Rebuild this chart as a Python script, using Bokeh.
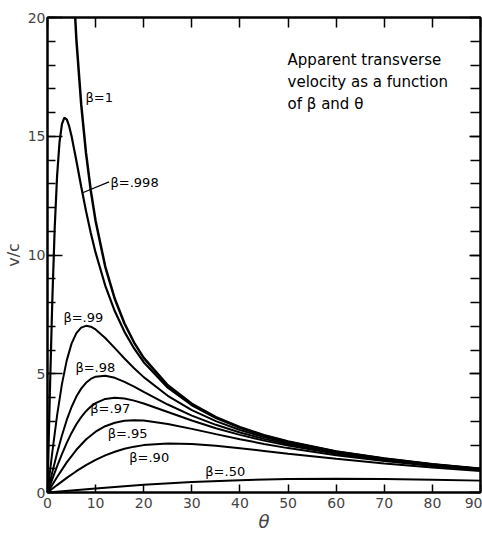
from bokeh.plotting import figure
from bokeh.models import Range1d, LinearAxis, FixedTicker, Label
from bokeh.embed import file_html
from bokeh.resources import INLINE

# ---- data ----
theta_b1 = [5, 6, 7, 8, 9, 10, 12, 14, 16, 18, 20, 25, 30, 35, 40, 45, 50, 60, 70, 80, 90]
v_b1 = [22.90, 19.08, 16.35, 14.30, 12.71, 11.43, 9.514, 8.144, 7.115, 6.314, 5.671, 4.511,
        3.732, 3.172, 2.747, 2.414, 2.145, 1.732, 1.428, 1.192, 1.0]

theta_fine = [0, 0.25, 0.5, 1, 1.5, 2, 2.5, 3, 3.5, 4, 4.5, 5, 6, 7, 8, 9, 10, 12, 14, 16, 18, 20,
              25, 30, 35, 40, 45, 50, 60, 70, 80, 90]
v_b998 = [0, 2.167, 4.274, 8.093, 11.155, 13.355, 14.757, 15.513, 15.780, 15.711, 15.423, 15.005,
          13.971, 12.885, 11.858, 10.927, 10.098, 8.715, 7.630, 6.765, 6.065, 5.489, 4.416, 3.677,
          3.137, 2.724, 2.398, 2.133, 1.725, 1.424, 1.189, 0.998]

theta_mid = [0, 1, 2, 3, 4, 5, 6, 7, 8, 9, 10, 12, 14, 16, 18, 20, 25, 30, 35, 40, 45, 50, 60, 70, 80, 90]
v_b99 = [0, 1.702, 3.258, 4.563, 5.564, 6.268, 6.710, 6.942, 7.017, 6.980, 6.866, 6.507, 6.078,
         5.644, 5.234, 4.858, 4.072, 3.470, 3.004, 2.634, 2.334, 2.086, 1.698, 1.407, 1.177, 0.99]
v_b98 = [0, 0.849, 1.660, 2.403, 3.054, 3.600, 4.038, 4.374, 4.618, 4.781, 4.878, 4.920, 4.828,
         4.660, 4.456, 4.237, 3.704, 3.239, 2.850, 2.527, 2.257, 2.029, 1.664, 1.385, 1.163, 0.98]
v_b97 = [0, 0.5615, 1.107, 1.620, 2.091, 2.509, 2.871, 3.175, 3.423, 3.618, 3.765, 3.939, 3.990,
         3.957, 3.869, 3.749, 3.391, 3.032, 2.708, 2.427, 2.184, 1.974, 1.631, 1.364, 1.149, 0.97]

theta_coarse = [0, 2, 4, 6, 8, 10, 12, 14, 16, 18, 20, 25, 30, 35, 40, 45, 50, 60, 70, 80, 90]
v_b95 = [0, 0.6555, 1.267, 1.799, 2.232, 2.560, 2.791, 2.938, 3.017, 3.042, 3.028, 2.888, 2.679,
         2.457, 2.243, 2.046, 1.869, 1.567, 1.322, 1.120, 0.95]
v_b90 = [0, 0.3124, 0.6143, 0.8966, 1.152, 1.375, 1.564, 1.718, 1.839, 1.931, 1.995, 2.064, 2.040,
         1.965, 1.863, 1.750, 1.636, 1.417, 1.222, 1.050, 0.9]

theta_b50 = [0, 5, 10, 20, 30, 40, 50, 60, 70, 80, 90]
v_b50 = [0, 0.0868, 0.1711, 0.3226, 0.4409, 0.5209, 0.5644, 0.5774, 0.5668, 0.5392, 0.5]

curve_labels = ["β=1", "β=.998", "β=.99", "β=.98", "β=.97", "β=.95", "β=.90", "β=.50"]
x_ticks = [0, 10, 20, 30, 40, 50, 60, 70, 80, 90]
y_ticks = [0, 5, 10, 15, 20]
y_minor = list(range(0, 21))

# ---- annotation placement ----
label_pos = [(7.9, 16.65), (13.1, 13.04), (3.3, 7.38), (5.8, 5.28), (8.9, 3.52),
             (12.5, 2.47), (17.0, 1.47), (32.8, 0.88)]

FONT = "DejaVu Sans"

p = figure(width=482, height=534, output_backend="svg", toolbar_location=None,
           x_range=Range1d(0, 90), y_range=Range1d(0, 20),
           min_border_left=47, min_border_right=2, min_border_top=17, min_border_bottom=38)
p.grid.visible = False
p.background_fill_color = "white"
p.border_fill_color = "white"
p.outline_line_color = "black"
p.outline_line_width = 2

series = [(theta_b1, v_b1, 2.5), (theta_fine, v_b998, 2.2), (theta_mid, v_b99, 2),
          (theta_mid, v_b98, 2), (theta_mid, v_b97, 2), (theta_coarse, v_b95, 2),
          (theta_coarse, v_b90, 2), (theta_b50, v_b50, 2)]
for xs, ys, lw in series:
    p.line(xs, ys, line_color="black", line_width=lw)

for txt, (lx, ly) in zip(curve_labels, label_pos):
    p.add_layout(Label(x=lx, y=ly, text=txt, text_font=FONT, text_font_size="13px",
                       text_baseline="middle", text_align="left", text_color="black"))

# leader for beta=.998
p.segment(x0=[7.3], y0=[12.62], x1=[12.8], y1=[13.08], line_color="black", line_width=1.2)

for i, line in enumerate(["Apparent transverse", "velocity as a function", "of β and θ"]):
    p.add_layout(Label(x=49.9, y=18.6, y_offset=-i * 22, text=line, text_font=FONT,
                       text_font_size="15px", text_baseline="top", text_align="left",
                       text_color="black"))

# bottom axis
xa = p.xaxis[0]
xa.ticker = FixedTicker(ticks=x_ticks)
xa.axis_label = "θ"
xa.axis_label_text_font_style = "italic"
xa.axis_label_text_font = FONT
xa.axis_label_text_font_size = "18px"
xa.axis_label_standoff = 0
xa.major_tick_in = 8
xa.major_tick_out = 0
xa.minor_tick_in = 0
xa.minor_tick_out = 0
xa.major_label_standoff = 5
xa.major_label_text_font = FONT
xa.major_label_text_font_size = "14px"
xa.axis_line_width = 2
xa.major_tick_line_width = 1.5

# left axis
ya = p.yaxis[0]
ya.ticker = FixedTicker(ticks=y_ticks, minor_ticks=y_minor)
ya.axis_label = "v/c"
ya.axis_label_text_font_style = "normal"
ya.axis_label_text_font = FONT
ya.axis_label_text_font_size = "16px"
ya.axis_label_standoff = 2
ya.major_tick_in = 15
ya.major_tick_out = 0
ya.minor_tick_in = 8
ya.minor_tick_out = 0
ya.major_label_standoff = 2
ya.major_label_text_font = FONT
ya.major_label_text_font_size = "14px"
ya.axis_line_width = 2
ya.major_tick_line_width = 1.5
ya.minor_tick_line_width = 1.5

# right and top axes: ticks only, no labels
ra = LinearAxis(ticker=FixedTicker(ticks=y_ticks, minor_ticks=y_minor),
                major_tick_in=11, major_tick_out=0, minor_tick_in=10, minor_tick_out=0,
                major_label_overrides={t: "" for t in y_ticks}, major_label_standoff=0,
                axis_line_width=2, major_tick_line_width=1.5, minor_tick_line_width=1.5)
p.add_layout(ra, "right")
ta = LinearAxis(ticker=FixedTicker(ticks=x_ticks), major_tick_in=10, major_tick_out=0,
                minor_tick_in=0, minor_tick_out=0,
                major_label_overrides={t: "" for t in x_ticks}, major_label_standoff=0,
                axis_line_width=2, major_tick_line_width=1.5)
p.add_layout(ta, "above")

with open("out.html", "w") as f:
    f.write(file_html(p, INLINE))
